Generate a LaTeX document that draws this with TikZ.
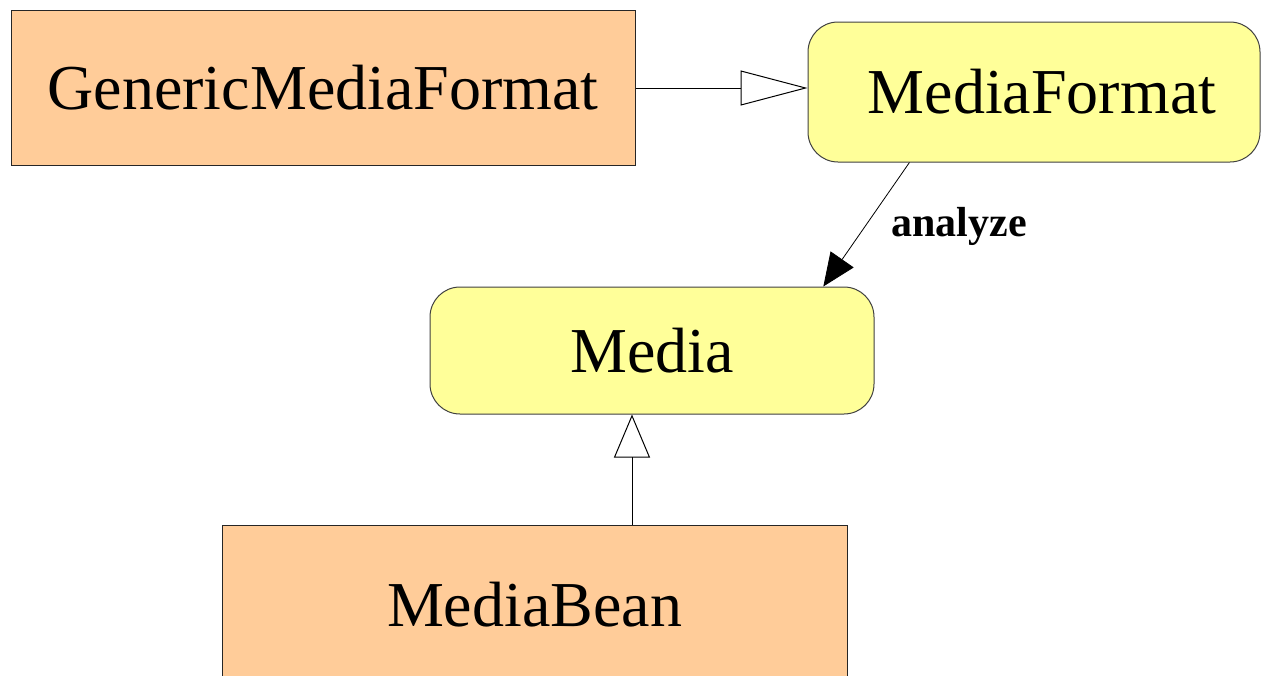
\documentclass[tikz,border=0pt]{standalone}
\usepackage{fontspec}
\setmainfont{Liberation Serif}
\usetikzlibrary{arrows.meta,calc}
\definecolor{classorange}{HTML}{FFCC99}
\definecolor{ifaceyellow}{HTML}{FFFF99}
\tikzset{
  cls/.style={draw=black!85, line width=1pt, fill=classorange, inner sep=0pt,
    font=\fontsize{64}{70}\selectfont},
  iface/.style={draw=black!75, line width=1pt, fill=ifaceyellow, inner sep=0pt,
    rounded corners=30pt, font=\fontsize{64}{70}\selectfont},
  realizes/.style={draw=black, line width=0.8pt,
    -{Triangle[open, length=67pt, width=35pt, line width=1pt]}},
  assoc/.style={draw=black, line width=0.8pt,
    -{Triangle[length=33pt, width=28pt]}},
  rolelabel/.style={font=\fontsize{42}{46}\selectfont\bfseries, inner sep=0pt}
}
\begin{document}
\begin{tikzpicture}[x=1pt, y=-1pt]
  \useasboundingbox (0,0) rectangle (1261,675);
  \clip (0,0) rectangle (1261,675);

  % boxes
  \node[cls, minimum width=624pt, minimum height=155pt] (gmf) at (323,88) {GenericMediaFormat};
  \node[iface, minimum width=452pt, minimum height=140pt] (mf) at (1034,92) {\hspace*{16pt}MediaFormat};
  \node[iface, minimum width=444pt, minimum height=127pt] (media) at (652,350.5) {Media};
  \node[cls, minimum width=625pt, minimum height=160pt] (mb) at (534.5,605) {MediaBean};

  % GenericMediaFormat realizes MediaFormat
  \draw[realizes] (gmf.east) -- (gmf.east -| mf.west);

  % MediaFormat analyzes Media
  \draw[assoc] ($(mf.south west)!0.225!(mf.south east)$) -- ($(media.north west)!0.885!(media.north east)$);
  \node[rolelabel] (lbl) at (959,226) {analyze};

  % MediaBean realizes Media
  \coordinate (mbtop) at ($(media.south west)!0.455!(media.south east)$);
  \draw[realizes, -{Triangle[open, length=43pt, width=36pt, line width=1pt]}]
    (mbtop |- mb.north) -- (mbtop);
\end{tikzpicture}
\end{document}
